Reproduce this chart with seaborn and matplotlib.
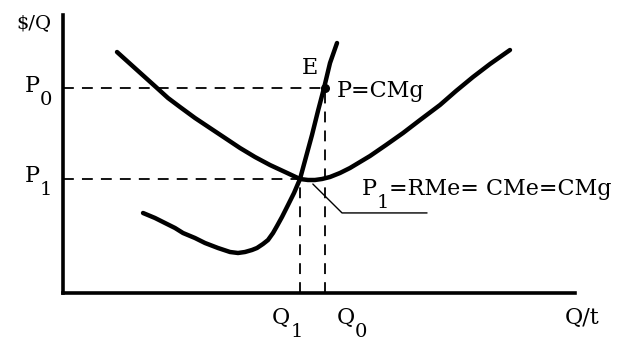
import matplotlib
matplotlib.use("Agg")
import matplotlib.pyplot as plt
from matplotlib.transforms import ScaledTranslation
import seaborn as sns

sns.set_style("white")
plt.rcParams["font.family"] = ["DejaVu Serif", "DejaVu Sans"]

# Average cost curve (CMe), U-shaped
cme_q = [10.55, 14.45, 18.36, 20.51, 22.85, 25.78, 28.71, 31.64, 34.57, 37.50,
         40.43, 43.36, 46.29, 47.85, 49.22, 50.59, 52.15, 54.10, 56.05, 59.96,
         63.09, 66.41, 69.73, 73.63, 76.76, 80.08, 83.40, 87.30]
cme_c = [86.69, 80.22, 73.74, 70.14, 66.91, 62.95, 59.35, 55.76, 52.16, 48.92,
         46.04, 43.53, 41.01, 40.65, 40.65, 41.01, 41.73, 43.17, 44.96, 49.28,
         53.24, 57.55, 62.23, 67.63, 72.66, 77.70, 82.37, 87.41]

# Marginal cost curve (CMg)
cmg_q = [15.63, 17.97, 19.92, 21.88, 23.44, 25.78, 27.73, 30.27, 32.62, 34.18,
         35.55, 36.91, 37.89, 39.06, 40.04, 41.02, 41.80, 42.77, 43.95, 45.12,
         46.29, 47.46, 48.63, 49.80, 50.98, 52.15, 53.52]
cmg_c = [28.78, 26.98, 25.18, 23.38, 21.58, 19.78, 17.99, 16.19, 14.75, 14.39,
         14.75, 15.47, 16.19, 17.63, 19.06, 21.58, 24.10, 27.34, 31.65, 35.97,
         41.01, 48.92, 56.83, 65.47, 73.74, 82.73, 89.93]

# Prices and quantities marked on the axes
p0, p1 = 73.7, 41.0
q0, q1 = 51.2, 46.3

fig = plt.figure(figsize=(6.2, 3.43), dpi=100)
ax = fig.add_axes([63 / 620, 50 / 343, 512 / 620, 278 / 343])
ax.set_xlim(0, 100)
ax.set_ylim(0, 100)

for side in ("top", "right"):
    ax.spines[side].set_visible(False)
for side in ("left", "bottom"):
    ax.spines[side].set_linewidth(2.6)
    ax.spines[side].set_color("black")
ax.set_xticks([])
ax.set_yticks([])

sns.lineplot(x=cme_q, y=cme_c, sort=False, color="black", linewidth=3.2, ax=ax)
sns.lineplot(x=cmg_q, y=cmg_c, sort=False, color="black", linewidth=3.2, ax=ax)

dash = dict(color="black", linewidth=1.3, linestyle=(0, (6, 4.5)))
ax.hlines(p0, 0, q0, **dash)
ax.hlines(p1, 0, q1, **dash)
ax.vlines(q0, 0, p0, **dash)
ax.vlines(q1, 0, p1, **dash)

ax.scatter([q0], [p0], s=30, color="black", zorder=5)

# pointer from the minimum of CMe to its label
ax.plot([48.8, 54.5, 71.1], [39.2, 28.8, 28.8], color="black", linewidth=1.0)

FS, SUB, DROP = 16, 14, 13
renderer = fig.canvas.get_renderer()


def label(x, y, pieces, ha="left"):
    """Write text made of (string, is_subscript) pieces, baseline at (x, y)."""
    made = []
    off = 0.0
    for s, sub in pieces:
        dy = -DROP if sub else 0
        t = ax.text(x, y, s, fontsize=SUB if sub else FS, color="black",
                    ha="left", va="baseline", clip_on=False,
                    transform=ax.transData
                    + ScaledTranslation(off / 100, dy / 100, fig.dpi_scale_trans))
        w = t.get_window_extent(renderer).width
        made.append((t, off, dy))
        off += w
    if ha == "right":
        for t, o, dy in made:
            t.set_transform(ax.transData
                            + ScaledTranslation((o - off) / 100, dy / 100,
                                                fig.dpi_scale_trans))


ax.text(-5.7, 97.1, "$/Q", ha="center", va="center", fontsize=14,
        color="black", clip_on=False)
label(-2.1, 72.3, [("P", False), ("0", True)], ha="right")
label(-2.1, 39.9, [("P", False), ("1", True)], ha="right")
ax.text(48.2, 80.9, "E", ha="center", va="center", fontsize=FS,
        color="black", clip_on=False)
label(53.5, 70.5, [("P=CMg", False)])
label(58.4, 35.3, [("P", False), ("1", True), ("=RMe= CMe=CMg", False)])
label(40.8, -11.3, [("Q", False), ("1", True)])
label(53.5, -11.3, [("Q", False), ("0", True)])
label(98.0, -11.3, [("Q/t", False)])

fig.savefig("out.png", dpi=100, facecolor="white")
